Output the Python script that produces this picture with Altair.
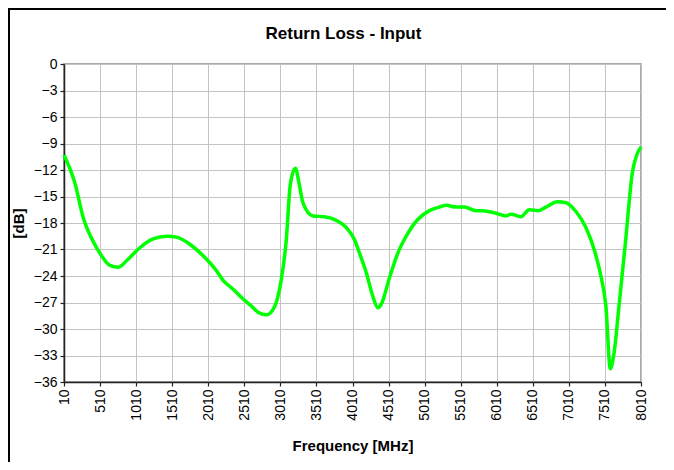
import altair as alt
import pandas as pd

freq = [10, 162, 277, 415, 531, 647, 761, 899, 1062, 1246, 1431, 1570, 1754, 1939,
        2124, 2216, 2354, 2493, 2608, 2700, 2815, 2907, 2977, 3023, 3092, 3147, 3217,
        3276, 3322, 3461, 3623, 3785, 3923, 4038, 4107, 4200, 4292, 4362, 4408, 4523,
        4639, 4754, 4915, 5077, 5215, 5308, 5446, 5561, 5723, 5815, 6000, 6138, 6208,
        6346, 6461, 6591, 6692, 6854, 6969, 7108, 7246, 7361, 7454, 7523, 7585, 7635,
        7705, 7798, 7890, 7951, 8010]
db = [-10.3, -13.5, -17.4, -20.1, -21.7, -22.8, -23.0, -22.1, -20.8, -19.8, -19.5,
      -19.6, -20.4, -21.7, -23.4, -24.5, -25.5, -26.6, -27.4, -28.1, -28.4, -27.8,
      -26.3, -24.4, -19.9, -13.7, -11.8, -13.8, -15.7, -17.2, -17.3, -17.7, -18.5,
      -19.9, -21.4, -23.6, -26.3, -27.6, -27.2, -24.2, -21.4, -19.5, -17.6, -16.6,
      -16.2, -16.0, -16.2, -16.2, -16.6, -16.6, -16.9, -17.2, -17.0, -17.3, -16.5,
      -16.6, -16.2, -15.6, -15.7, -16.7, -18.5, -21.0, -24.0, -27.4, -34.5, -32.8,
      -27.4, -19.9, -12.3, -10.3, -9.4]

x_ticks = [10, 510, 1010, 1510, 2010, 2510, 3010, 3510, 4010, 4510, 5010, 5510,
           6010, 6510, 7010, 7510, 8010]
y_ticks = [0, -3, -6, -9, -12, -15, -18, -21, -24, -27, -30, -33, -36]

df = pd.DataFrame({"f": freq, "db": db})

W, H = 577, 318
PL, PT, PR, PB = 56, 56, 25, 80
FONT = "Liberation Sans"

line = alt.Chart(df).mark_line(color="#00FF00", strokeWidth=3.5, interpolate="monotone").encode(
    x=alt.X("f:Q",
            scale=alt.Scale(domain=[10, 8010], nice=False, zero=False),
            axis=alt.Axis(values=x_ticks, title="Frequency [MHz]", labelAngle=270,
                          format="d", tickSize=4, labelPadding=3,
                          titleY=68, titleBaseline="alphabetic")),
    y=alt.Y("db:Q",
            scale=alt.Scale(domain=[-36, 0], nice=False, zero=False),
            axis=alt.Axis(values=y_ticks, title="[dB]", tickSize=4, labelPadding=3,
                          titleX=-41, titleBaseline="alphabetic")),
)

top_border = alt.Chart(df).mark_rule(color="black", strokeWidth=1.5).encode(
    x=alt.value(-PL + 0.75), x2=alt.value(W + PR), y=alt.value(-PT + 0.75))
left_border = alt.Chart(df).mark_rule(color="black", strokeWidth=1.5).encode(
    x=alt.value(-PL + 0.75), y=alt.value(-PT + 0.75), y2=alt.value(H + PB))

chart = alt.layer(line, top_border, left_border).properties(
    width=W, height=H,
    title=alt.TitleParams("Return Loss - Input", anchor="middle", frame="group",
                          dx=-9, offset=-48, baseline="alphabetic",
                          font=FONT, fontSize=17, fontWeight="bold", color="black"),
    padding={"left": PL, "top": PT, "right": PR, "bottom": PB},
    autosize=alt.AutoSizeParams(type="none"),
    background="white",
).configure_view(
    stroke="#8c8c8c", strokeWidth=1.5
).configure_axis(
    labelFont=FONT, labelFontSize=14, labelColor="black",
    titleFont=FONT, titleFontSize=15, titleFontWeight="bold", titleColor="black",
    domainColor="#222222", domainWidth=1.5, tickColor="#222222", tickWidth=1.2,
    gridColor="#c4c4c4", gridWidth=1,
)

chart.save("out.html", embed_options={"renderer": "svg", "actions": False})
